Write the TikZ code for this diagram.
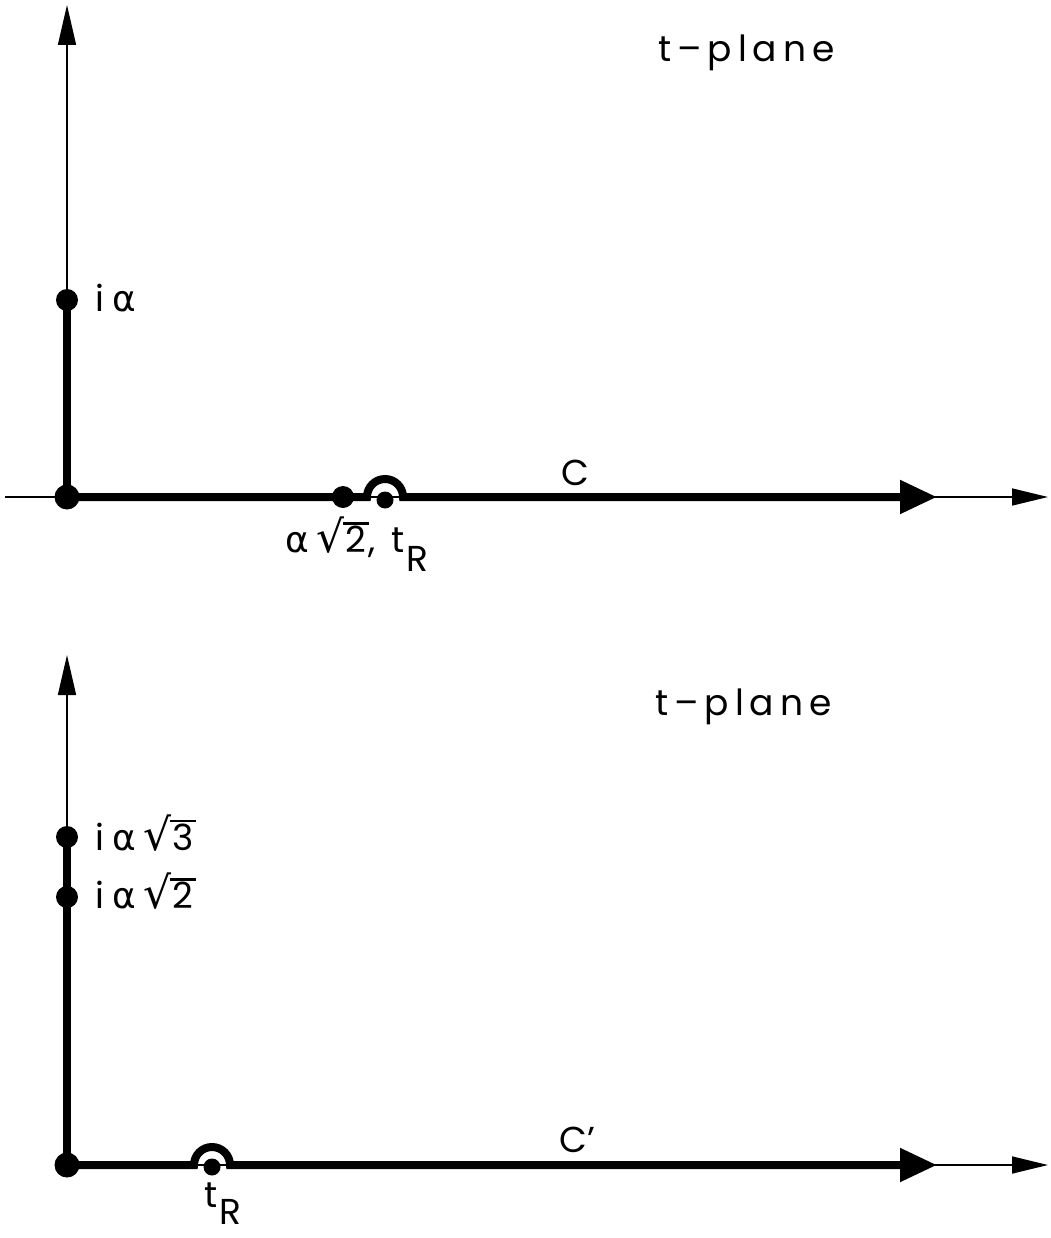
\documentclass[tikz,border=0pt]{standalone}
\usepackage{fontspec}
\setmainfont{Poppins}
\newfontfamily\gk{DejaVu Sans}
\newfontfamily\djv{DejaVu Sans}
\usetikzlibrary{arrows.meta}
\newcommand{\al}{{\gk α}}
\newcommand{\rt}[1]{{\djv\fontsize{44}{44}\selectfont √}\kern-2pt\vbox{\hrule height 2.4pt\kern 1pt\hbox{\kern3pt#1\kern2pt}}}
\begin{document}
\begin{tikzpicture}[x=1pt,y=-1pt,
  thinaxis/.style={line width=1.6pt},
  thickpath/.style={line width=8pt},
  dotbig/.style={circle,fill=black,inner sep=0pt,minimum size=25pt},
  dotmid/.style={circle,fill=black,inner sep=0pt,minimum size=22pt},
  dotsmall/.style={circle,fill=black,inner sep=0pt,minimum size=17pt},
  lbl/.style={font=\fontsize{36}{40}\selectfont,inner sep=0pt},
  thinarrow/.style={-{Triangle[length=36pt,width=17pt]}},
  vertarrow/.style={-{Triangle[length=40pt,width=18pt]}},
  thickarrow/.style={-{Triangle[length=37pt,width=32pt]}}]
\path[use as bounding box] (0,0) rectangle (1050,1238);
% ---------- top panel ----------
\node[dotbig] (O1) at (67,497) {};
\node[dotmid] (A1) at (67,300) {};
\node[dotmid] (B1) at (343,497) {};
\node[dotsmall] (R1) at (385,500) {};
\coordinate (Y1) at (67,5);
\coordinate (XL1) at (5,497);
\coordinate (XR1) at (1048,497);
\coordinate (CE1) at (937,497);
\coordinate (K1) at (367,497);
\draw[thinaxis,thinarrow] (XL1) -- (XR1);
\draw[thinaxis,vertarrow] (O1.center) -- (Y1);
\draw[thickpath] (A1.center) -- (O1.center);
\draw[thickpath,thickarrow] (O1.center) -- (K1) arc[start angle=180,end angle=360,radius=18] -- (CE1);
\node[lbl,anchor=base west] (LA1) at (95,312) {i\kern8pt\al};
\node[lbl,anchor=base west] (LB1) at (285,552) {\al\kern8pt\rt{2},\kern16pt t\kern2pt\raisebox{-19pt}{R}};
\node[lbl,anchor=base west] (LC1) at (561,485) {C};
\node[lbl,anchor=base west] (LT1) at (658,62) {t\,–\,p\,l\,a\,n\,e};
% ---------- bottom panel ----------
\node[dotbig] (O2) at (67,1165) {};
\node[dotmid] (A2) at (67,837) {};
\node[dotmid] (B2) at (67,897) {};
\node[dotsmall] (R2) at (212,1167) {};
\coordinate (Y2) at (67,655);
\coordinate (XR2) at (1048,1165);
\coordinate (CE2) at (937,1165);
\coordinate (K2) at (194,1165);
\draw[thinaxis,thinarrow] (O2.center) -- (XR2);
\draw[thinaxis,vertarrow] (O2.center) -- (Y2);
\draw[thickpath] (A2.center) -- (O2.center);
\draw[thickpath,thickarrow] (O2.center) -- (K2) arc[start angle=180,end angle=360,radius=18] -- (CE2);
\node[lbl,anchor=base west] (LA2) at (95,850) {i\kern8pt\al\kern8pt\rt{3}};
\node[lbl,anchor=base west] (LB2) at (95,908) {i\kern8pt\al\kern8pt\rt{2}};
\node[lbl,anchor=base west] (LC2) at (559,1152) {C'};
\node[lbl,anchor=base west] (LR2) at (204,1207) {t\kern2pt\raisebox{-17pt}{R}};
\node[lbl,anchor=base west] (LT2) at (655,715) {t\,–\,p\,l\,a\,n\,e};
\end{tikzpicture}
\end{document}
